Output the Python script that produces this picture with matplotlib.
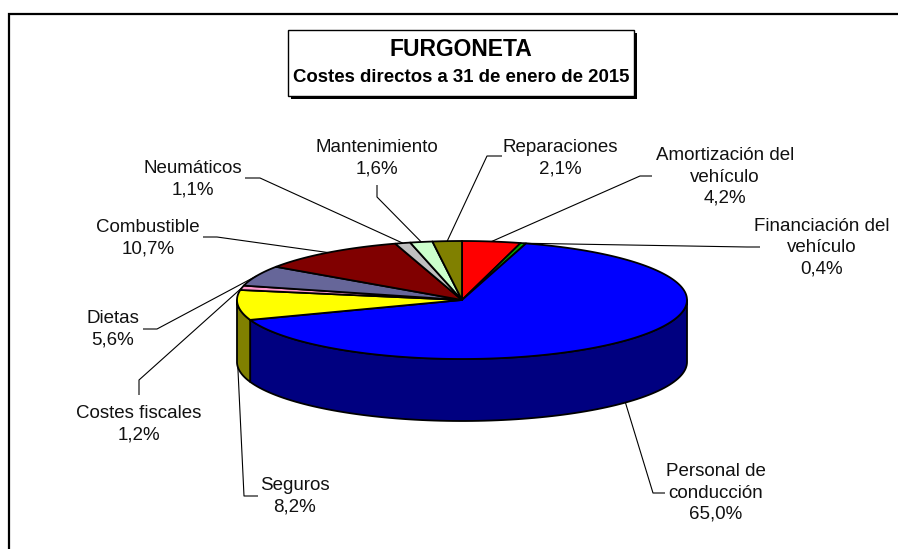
import numpy as np
import matplotlib
matplotlib.use("Agg")
import matplotlib.pyplot as plt
from matplotlib.patches import Polygon, Rectangle

plt.rcParams['font.family'] = ['Liberation Sans', 'DejaVu Sans']

# data
categories = ["Amortización del\nvehículo", "Financiación del\nvehículo",
              "Personal de\nconducción", "Seguros", "Costes fiscales", "Dietas",
              "Combustible", "Neumáticos", "Mantenimiento", "Reparaciones"]
values = [4.2, 0.4, 65.0, 8.2, 1.2, 5.6, 10.7, 1.1, 1.6, 2.1]
colors = ["#ff0000", "#00b000", "#0000ff", "#ffff00", "#ff99cc",
          "#666699", "#800000", "#c0c0c0", "#ccffcc", "#808000"]
title = "FURGONETA"
subtitle = "Costes directos a 31 de enero de 2015"

# layout (pixels)
label_pos = [(725, 177), (822, 248), (716, 493), (295, 496), (139, 424),
             (113, 329), (148, 238), (193, 179), (377, 158), (560, 158)]
# short elbow of each leader: (start at label, bend point)
elbows = [((652, 176), (640, 176)), ((760, 247), (747, 247)),
          ((665, 493), (653, 493)), ((258, 496), (244, 496)),
          ((139, 395), (139, 380)), ((143, 329), (157, 329)),
          ((203, 237), (217, 237)), ((245, 178), (260, 178)),
          ((377, 185), (377, 197)), ((502, 156), (487, 156))]
cx, cy, a, b, depth = 462, 300, 225, 59, 62

fig = plt.figure(figsize=(8.98, 5.49), dpi=100)
ax = fig.add_axes([0, 0, 1, 1])
ax.set_xlim(0, 898)
ax.set_ylim(549, 0)
ax.axis('off')


def pt(theta, dz=0):
    return cx + a * np.sin(theta), cy - b * np.cos(theta) + dz


def shade(c):
    r, g, bl = matplotlib.colors.to_rgb(c)
    return (r * 0.5, g * 0.5, bl * 0.5)


vals = np.array(values)
frac = vals / vals.sum()
starts = np.concatenate([[0], np.cumsum(frac)[:-1]]) * 2 * np.pi
ends = np.cumsum(frac) * 2 * np.pi

# side walls (front half only)
for s, e, c in zip(starts, ends, colors):
    lo, hi = max(s, np.pi / 2), min(e, 3 * np.pi / 2)
    if hi <= lo:
        continue
    t = np.linspace(lo, hi, 100)
    xs, ys = pt(t)
    poly = list(zip(xs, ys)) + list(zip(xs[::-1], ys[::-1] + depth))
    ax.add_patch(Polygon(poly, closed=True, fc=shade(c), ec='black', lw=1.3,
                         joinstyle='round'))

# top faces
for s, e, c in zip(starts, ends, colors):
    t = np.linspace(s, e, max(int((e - s) * 60), 4))
    xs, ys = pt(t)
    poly = [(cx, cy)] + list(zip(xs, ys))
    ax.add_patch(Polygon(poly, closed=True, fc=c, ec='black', lw=1.3,
                         joinstyle='round'))

# labels with leaders
for i, (name, v) in enumerate(zip(categories, values)):
    mid = (starts[i] + ends[i]) / 2
    if np.pi / 2 < mid < 3 * np.pi / 2:
        ex, ey = pt(mid, depth)
    else:
        ex, ey = pt(mid)
    (x0, y0), (x1, y1) = elbows[i]
    ax.plot([x0, x1, ex], [y0, y1, ey], color='black', lw=0.8,
            solid_capstyle='butt')
    lx, ly = label_pos[i]
    txt = name + "\n" + ("%.1f%%" % v).replace('.', ',')
    ax.text(lx, ly, txt, ha='center', va='center', fontsize=13.5,
            linespacing=1.33, color='#111111')

# title box with shadow
ax.add_patch(Rectangle((291, 33), 346, 66, fc='black', ec='none'))
ax.add_patch(Rectangle((288, 30), 346, 66, fc='white', ec='black', lw=1.0))
ax.text(461, 50, title, ha='center', va='center', fontsize=16.5,
        fontweight='bold')
ax.text(461, 78, subtitle, ha='center', va='center', fontsize=13.4,
        fontweight='bold')

# chart area frame (top and left visible)
ax.plot([9, 9, 898], [549, 14, 14], color='black', lw=1.6,
        solid_joinstyle='miter')

fig.savefig("out.png", dpi=100)
